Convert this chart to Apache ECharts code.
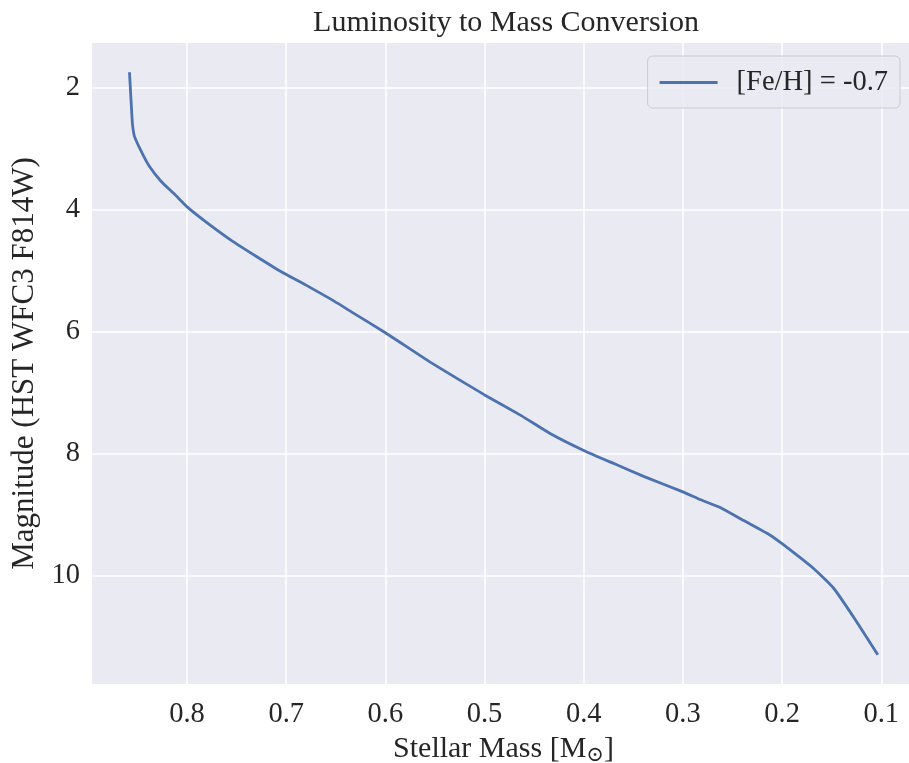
<!DOCTYPE html>
<html>
<head>
<meta charset="utf-8">
<script src="https://cdn.jsdelivr.net/npm/echarts@6/dist/echarts.min.js"></script>
<style>html,body{margin:0;padding:0;background:#fff;}#c{width:909px;height:763px;}</style>
</head>
<body>
<div id="c"></div>
<script>
// Data
const masses = [0.858, 0.857, 0.856, 0.855, 0.853, 0.846, 0.838, 0.826, 0.8125, 0.799,
  0.782, 0.755, 0.730, 0.705, 0.680, 0.655, 0.633, 0.600, 0.554, 0.500,
  0.463, 0.433, 0.400, 0.369, 0.339, 0.300, 0.282, 0.262, 0.242, 0.212,
  0.200, 0.168, 0.148, 0.126, 0.1035];
const magnitudes = [1.75, 2.05, 2.34, 2.60, 2.80, 3.05, 3.29, 3.54, 3.75, 3.97,
  4.19, 4.51, 4.77, 5.02, 5.24, 5.47, 5.69, 6.02, 6.51, 7.04,
  7.38, 7.68, 7.95, 8.17, 8.38, 8.63, 8.76, 8.89, 9.07, 9.34,
  9.48, 9.89, 10.21, 10.73, 11.30];
const xTicks = [0.8, 0.7, 0.6, 0.5, 0.4, 0.3, 0.2, 0.1];
const yTicks = [2, 4, 6, 8, 10];
const seriesName = '[Fe/H] = -0.7';

const FONT = '"Liberation Serif", "DejaVu Serif", serif';
const TXT = '#262626';
const chart = echarts.init(document.getElementById('c'), null, {renderer: 'canvas'});
chart.setOption({
  backgroundColor: '#ffffff',
  animation: false,
  title: {
    text: 'Luminosity to Mass Conversion',
    left: 501, top: 3, textAlign: 'center',
    textStyle: {fontFamily: FONT, fontSize: 30, fontWeight: 'normal', color: TXT}
  },
  legend: {
    data: [seriesName],
    right: 9, top: 56,
    padding: [12, 12, 11, 12],
    itemWidth: 58, itemHeight: 3,
    backgroundColor: 'rgba(234,234,242,0.8)',
    borderColor: '#cccccc', borderWidth: 1, borderRadius: 5,
    icon: 'rect',
    textStyle: {fontFamily: FONT, fontSize: 28.5, color: TXT, padding: [0, 0, 0, 14]}
  },
  grid: {left: 92, right: -6, top: 43, bottom: 79, backgroundColor: '#eaeaf2', show: true, borderWidth: 0,
    containLabel: false, outerBoundsMode: 'none'},
  xAxis: {
    type: 'value', inverse: true, min: 0.066, max: 0.8958,
    name: 'Stellar Mass [M{sub|⊙}]',
    nameLocation: 'middle', nameGap: 45,
    nameTextStyle: {fontFamily: FONT, fontSize: 30, color: TXT,
      rich: {sub: {fontFamily: FONT, fontSize: 21, color: TXT, verticalAlign: 'bottom', padding: [13, 0, 0, 0]}}},
    axisLine: {show: false},
    axisTick: {show: false, customValues: xTicks},
    axisLabel: {customValues: xTicks, fontFamily: FONT, fontSize: 28.5, color: TXT, margin: 16,
      formatter: v => v.toFixed(1)},
    splitLine: {show: true, lineStyle: {color: '#ffffff', width: 1.5}}
  },
  yAxis: {
    type: 'value', inverse: true, min: 1.27, max: 11.78,
    name: 'Magnitude (HST WFC3 F814W)',
    nameLocation: 'middle', nameGap: 47, nameRotate: 90,
    nameTextStyle: {fontFamily: FONT, fontSize: 31, color: TXT},
    axisLine: {show: false},
    axisTick: {show: false, customValues: yTicks},
    axisLabel: {customValues: yTicks, fontFamily: FONT, fontSize: 28.5, color: TXT, margin: 12},
    splitLine: {show: true, lineStyle: {color: '#ffffff', width: 1.5}}
  },
  series: [{
    name: seriesName, type: 'line',
    data: masses.map((m, i) => [m, magnitudes[i]]),
    showSymbol: false, smooth: 0.15,
    lineStyle: {color: '#4c72b0', width: 2.8},
    itemStyle: {color: '#4c72b0'}
  }]
});
</script>
</body>
</html>
